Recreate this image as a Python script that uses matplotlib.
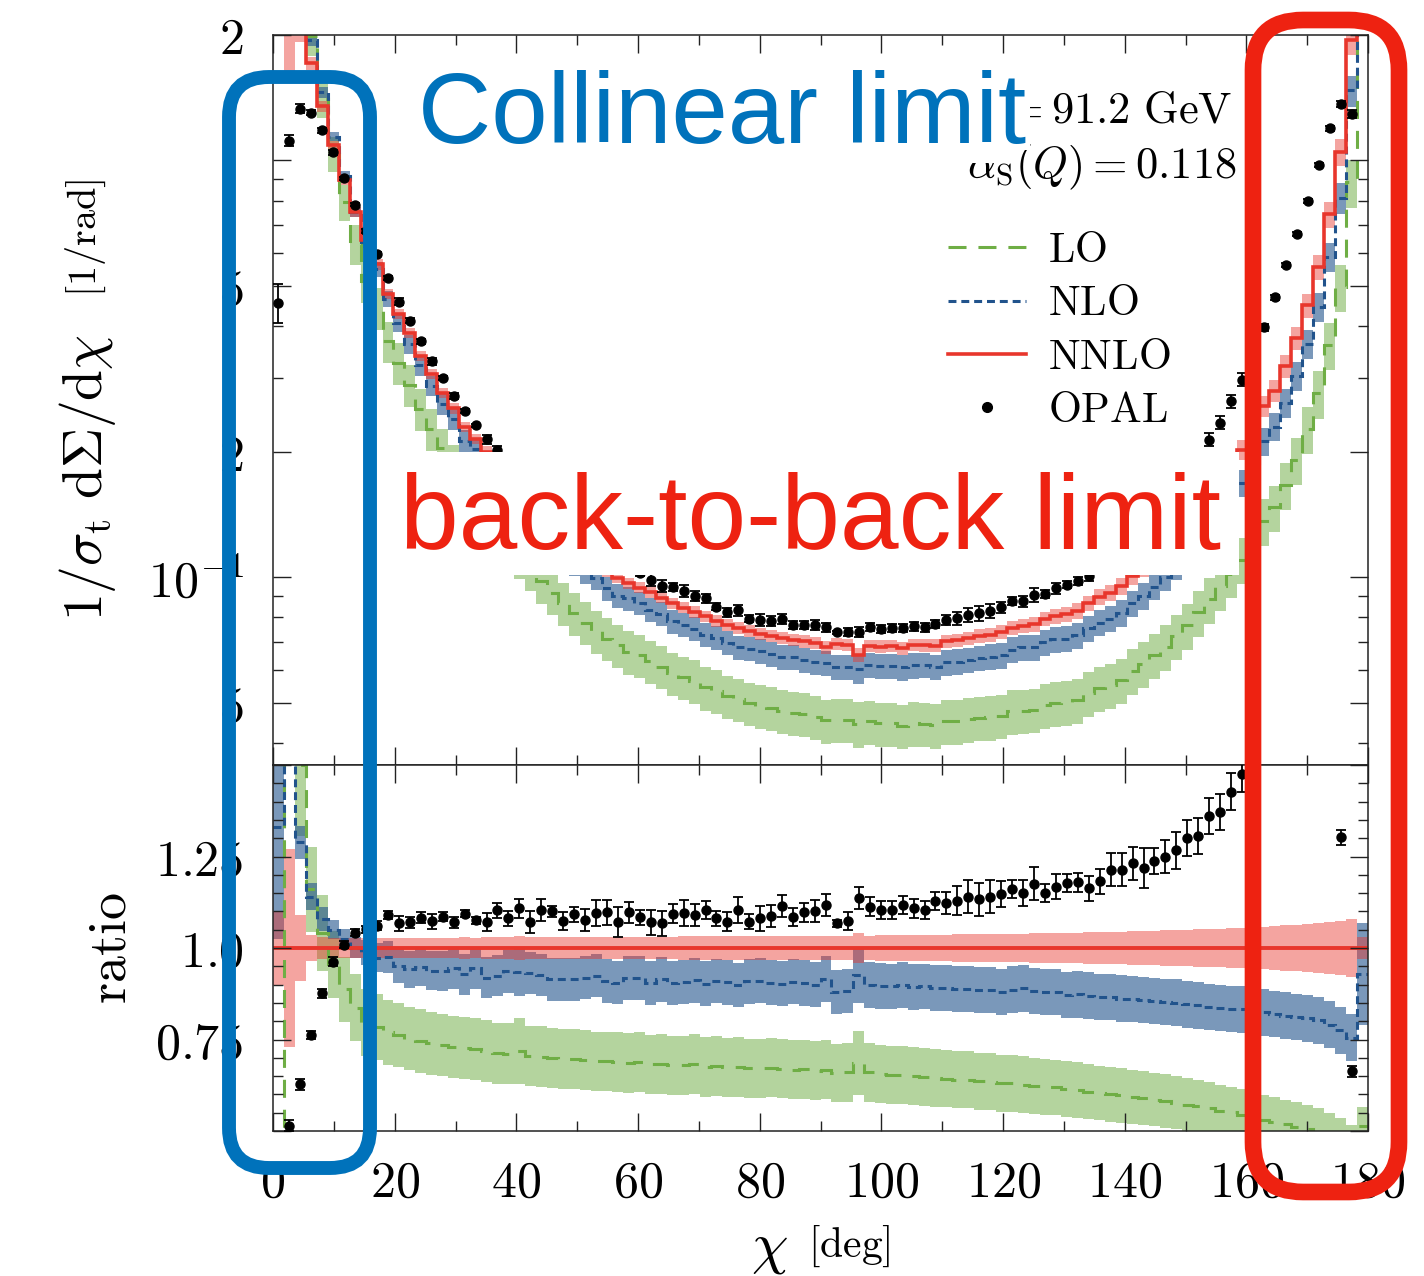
import numpy as np
import matplotlib
matplotlib.use('Agg')
import matplotlib.pyplot as plt
from matplotlib.patches import FancyBboxPatch, Rectangle
from matplotlib.transforms import IdentityTransform
from matplotlib.lines import Line2D
from matplotlib.ticker import FixedLocator, FixedFormatter, MultipleLocator, NullFormatter

plt.rcParams['mathtext.fontset'] = 'cm'
plt.rcParams['font.family'] = ['DejaVu Sans']

# ---------------- data ----------------
chi_edges = np.linspace(0.0, 180.0, 101)          # 1.8 deg bins
chi_centres = 0.5 * (chi_edges[1:] + chi_edges[:-1])

# NNLO central value, 1/sigma dSigma/dchi [1/rad]
nnlo = np.array([
    2.40, 2.17, 2.12, 1.71, 1.35, 1.086, 0.897, 0.752, 0.645, 0.563,
    0.478, 0.429, 0.385, 0.340, 0.307, 0.277, 0.254, 0.229, 0.215, 0.200,
    0.1835, 0.1709, 0.1575, 0.1485, 0.1392, 0.1311, 0.1240, 0.1177, 0.1122, 0.1074,
    0.1032, 0.0997, 0.0967, 0.0943, 0.0921, 0.0893, 0.0866, 0.0845, 0.0825, 0.0805,
    0.0786, 0.0768, 0.0754, 0.0741, 0.0730, 0.0721, 0.0713, 0.0707, 0.0701, 0.0695,
    0.0678, 0.0690, 0.0688, 0.0650, 0.0683, 0.0681, 0.0684, 0.0675, 0.0687, 0.0686,
    0.0684, 0.0701, 0.0705, 0.0713, 0.0722, 0.0728, 0.0738, 0.0756, 0.0762, 0.0770,
    0.0793, 0.0806, 0.0815, 0.0830, 0.0866, 0.0898, 0.0918, 0.0950, 0.1005, 0.1050,
    0.1110, 0.1170, 0.1250, 0.1340, 0.1450, 0.157, 0.171, 0.185, 0.202, 0.228,
    0.257, 0.280, 0.321, 0.374, 0.449, 0.555, 0.742, 1.049, 1.95, 8.0])

nnlo_rel_unc = np.array([
    0.10, 0.27, 0.09, 0.035, 0.030, 0.028, 0.028, 0.027, 0.027, 0.028,
    0.028, 0.027, 0.028, 0.027, 0.028, 0.028, 0.028, 0.029, 0.028, 0.029,
    0.029, 0.029, 0.034, 0.029, 0.029, 0.030, 0.030, 0.029, 0.030, 0.030,
    0.030, 0.031, 0.030, 0.031, 0.031, 0.031, 0.031, 0.032, 0.032, 0.032,
    0.032, 0.032, 0.033, 0.033, 0.033, 0.033, 0.033, 0.034, 0.034, 0.034,
    0.034, 0.034, 0.034, 0.040, 0.034, 0.035, 0.035, 0.035, 0.035, 0.036,
    0.036, 0.036, 0.037, 0.037, 0.037, 0.038, 0.038, 0.039, 0.039, 0.040,
    0.040, 0.041, 0.042, 0.042, 0.043, 0.044, 0.044, 0.045, 0.046, 0.047,
    0.047, 0.048, 0.049, 0.050, 0.051, 0.052, 0.053, 0.054, 0.055, 0.057,
    0.058, 0.060, 0.062, 0.064, 0.066, 0.068, 0.071, 0.074, 0.080, 0.030])

# NLO / NNLO
nlo_ratio = np.array([
    1.33, 1.70, 1.289, 1.14, 1.08, 1.05, 1.024, 1.001, 0.988, 0.974,
    0.975, 0.951, 0.942, 0.947, 0.938, 0.938, 0.945, 0.928, 0.944, 0.919,
    0.924, 0.936, 0.935, 0.932, 0.926, 0.914, 0.914, 0.914, 0.919, 0.924,
    0.910, 0.905, 0.919, 0.919, 0.905, 0.914, 0.905, 0.908, 0.912, 0.903,
    0.910, 0.906, 0.900, 0.909, 0.911, 0.905, 0.903, 0.908, 0.904, 0.900,
    0.915, 0.880, 0.882, 0.925, 0.900, 0.897, 0.895, 0.899, 0.893, 0.895,
    0.890, 0.891, 0.888, 0.887, 0.886, 0.884, 0.879, 0.886, 0.890, 0.882,
    0.880, 0.879, 0.872, 0.873, 0.870, 0.866, 0.866, 0.862, 0.860, 0.858,
    0.855, 0.853, 0.851, 0.846, 0.843, 0.840, 0.836, 0.833, 0.832, 0.826,
    0.824, 0.820, 0.815, 0.812, 0.808, 0.802, 0.790, 0.775, 0.755, 0.93])

nlo_rel_unc = np.array([
    0.23, 0.10, 0.035, 0.032, 0.030, 0.025, 0.027, 0.028, 0.035, 0.040,
    0.045, 0.050, 0.053, 0.055, 0.057, 0.058, 0.059, 0.060, 0.060, 0.061,
    0.061, 0.062, 0.072, 0.062, 0.063, 0.063, 0.063, 0.064, 0.064, 0.064,
    0.065, 0.065, 0.065, 0.065, 0.066, 0.066, 0.066, 0.066, 0.067, 0.067,
    0.067, 0.067, 0.067, 0.068, 0.068, 0.068, 0.068, 0.068, 0.069, 0.069,
    0.069, 0.069, 0.069, 0.080, 0.070, 0.070, 0.070, 0.070, 0.070, 0.070,
    0.070, 0.071, 0.071, 0.071, 0.071, 0.071, 0.071, 0.072, 0.072, 0.072,
    0.072, 0.072, 0.072, 0.073, 0.073, 0.073, 0.073, 0.073, 0.073, 0.074,
    0.074, 0.074, 0.074, 0.075, 0.075, 0.075, 0.075, 0.076, 0.076, 0.076,
    0.077, 0.077, 0.078, 0.078, 0.079, 0.080, 0.081, 0.083, 0.085, 0.15])

# LO / NNLO (first bin negative at LO)
lo_ratio = np.array([
    -0.50, 1.80, 1.50, 1.16, 1.04, 0.955, 0.887, 0.837, 0.796, 0.785,
    0.770, 0.762, 0.752, 0.746, 0.740, 0.735, 0.730, 0.727, 0.723, 0.718,
    0.713, 0.711, 0.718, 0.705, 0.703, 0.700, 0.697, 0.697, 0.693, 0.690,
    0.690, 0.688, 0.685, 0.688, 0.682, 0.683, 0.680, 0.680, 0.683, 0.675,
    0.678, 0.674, 0.675, 0.672, 0.672, 0.673, 0.670, 0.668, 0.669, 0.665,
    0.668, 0.658, 0.660, 0.685, 0.660, 0.655, 0.652, 0.652, 0.649, 0.648,
    0.645, 0.643, 0.640, 0.640, 0.636, 0.634, 0.630, 0.630, 0.627, 0.624,
    0.621, 0.619, 0.615, 0.612, 0.607, 0.604, 0.600, 0.597, 0.593, 0.590,
    0.586, 0.582, 0.577, 0.572, 0.568, 0.563, 0.556, 0.551, 0.545, 0.538,
    0.531, 0.525, 0.518, 0.512, 0.506, 0.497, 0.487, 0.474, 0.455, 0.515])

lo_rel_unc = np.array([
    0.10, 0.10, 0.13, 0.10, 0.10, 0.095, 0.10, 0.11, 0.115, 0.115,
    0.115, 0.115, 0.115, 0.116, 0.116, 0.116, 0.116, 0.117, 0.117, 0.117,
    0.117, 0.117, 0.125, 0.117, 0.118, 0.118, 0.118, 0.118, 0.118, 0.118,
    0.118, 0.119, 0.119, 0.119, 0.119, 0.119, 0.119, 0.119, 0.120, 0.120,
    0.120, 0.120, 0.120, 0.120, 0.120, 0.120, 0.120, 0.121, 0.121, 0.121,
    0.121, 0.121, 0.121, 0.128, 0.121, 0.121, 0.121, 0.122, 0.122, 0.122,
    0.122, 0.122, 0.122, 0.122, 0.122, 0.123, 0.123, 0.123, 0.123, 0.123,
    0.123, 0.123, 0.124, 0.124, 0.124, 0.124, 0.124, 0.124, 0.125, 0.125,
    0.125, 0.125, 0.125, 0.126, 0.126, 0.126, 0.126, 0.127, 0.127, 0.127,
    0.128, 0.128, 0.128, 0.129, 0.129, 0.130, 0.130, 0.131, 0.132, 0.10])

# OPAL / NNLO and its uncertainty (ratio units)
opal_ratio = np.array([
    0.19, 0.514, 0.628, 0.762, 0.876, 0.963, 1.009, 1.042, 1.051, 1.061,
    1.090, 1.067, 1.070, 1.082, 1.073, 1.085, 1.071, 1.094, 1.076, 1.071,
    1.103, 1.081, 1.108, 1.071, 1.104, 1.101, 1.074, 1.092, 1.076, 1.095,
    1.097, 1.071, 1.097, 1.084, 1.070, 1.067, 1.094, 1.095, 1.090, 1.104,
    1.081, 1.072, 1.104, 1.072, 1.081, 1.088, 1.115, 1.085, 1.097, 1.102,
    1.117, 1.067, 1.074, 1.136, 1.113, 1.104, 1.104, 1.117, 1.108, 1.104,
    1.129, 1.124, 1.129, 1.140, 1.133, 1.140, 1.147, 1.161, 1.150, 1.175,
    1.150, 1.168, 1.177, 1.179, 1.163, 1.182, 1.214, 1.214, 1.232, 1.218,
    1.237, 1.250, 1.267, 1.301, 1.306, 1.361, 1.372, 1.427, 1.475, 1.513,
    1.549, 1.675, 1.748, 1.783, 1.784, 1.760, 1.608, 1.302, 0.663, 0.35])

opal_err_ratio = np.array([
    0.020, 0.015, 0.015, 0.010, 0.012, 0.012, 0.010, 0.010, 0.010, 0.012,
    0.012, 0.020, 0.015, 0.015, 0.020, 0.012, 0.015, 0.010, 0.010, 0.025,
    0.020, 0.020, 0.025, 0.030, 0.030, 0.015, 0.025, 0.020, 0.030, 0.035,
    0.035, 0.040, 0.030, 0.020, 0.035, 0.035, 0.025, 0.035, 0.030, 0.025,
    0.020, 0.025, 0.035, 0.020, 0.035, 0.030, 0.030, 0.025, 0.025, 0.030,
    0.030, 0.010, 0.025, 0.030, 0.025, 0.025, 0.025, 0.025, 0.025, 0.025,
    0.025, 0.030, 0.040, 0.045, 0.045, 0.045, 0.035, 0.025, 0.035, 0.045,
    0.025, 0.035, 0.025, 0.025, 0.035, 0.035, 0.045, 0.045, 0.045, 0.055,
    0.035, 0.045, 0.050, 0.050, 0.050, 0.050, 0.050, 0.050, 0.050, 0.030,
    0.030, 0.025, 0.020, 0.020, 0.020, 0.020, 0.020, 0.020, 0.015, 0.020])

x_ticks_major = [0, 20, 40, 60, 80, 100, 120, 140, 160, 180]
top_y_ticks = [0.05, 0.1, 0.2, 0.5, 1.0, 2.0]
top_y_ticklabels = [r'$5$', r'$10^{-1}$', r'$2$', r'$5$', '', r'$2$']
ratio_y_ticks = [0.5, 0.75, 1.0, 1.25, 1.5]
ratio_y_ticklabels = ['', r'$0.75$', r'$1.0$', r'$1.25$', '']

# ---------------- styling ----------------
W, H = 1424, 1276
DPI = 100
c_lo, c_nlo, c_nnlo = '#6fae45', '#21538c', '#e8362c'
a_lo, a_nlo, a_nnlo = 0.52, 0.6, 0.45
lw = 2.2
dash_lo = (0, (5.9, 3.9))
dash_nlo = (0, (2.6, 1.6))

fig = plt.figure(figsize=(W / DPI, H / DPI), dpi=DPI)
left = 273 / W
width = 1095 / W
ax1 = fig.add_axes([left, 1 - 765 / H, width, (765 - 35) / H])
ax2 = fig.add_axes([left, 1 - 1131 / H, width, (1131 - 765) / H])

# derived top-panel quantities
nlo = nnlo * nlo_ratio
lo = nnlo * lo_ratio
opal = nnlo * opal_ratio
opal_err = nnlo * opal_err_ratio
one = nnlo / nnlo
lo_first = int(np.argmax(lo > 0))     # LO is negative in the first bin: not shown on log axis

# ---- top panel ----
ax1.stairs((lo * (1 + lo_rel_unc))[lo_first:], chi_edges[lo_first:],
           baseline=(lo * (1 - lo_rel_unc))[lo_first:],
           fill=True, color=c_lo, alpha=a_lo, lw=0)
ax1.stairs(nlo * (1 + nlo_rel_unc), chi_edges, baseline=nlo * (1 - nlo_rel_unc),
           fill=True, color=c_nlo, alpha=a_nlo, lw=0)
ax1.stairs(nnlo * (1 + nnlo_rel_unc), chi_edges, baseline=nnlo * (1 - nnlo_rel_unc),
           fill=True, color=c_nnlo, alpha=a_nnlo, lw=0)
ax1.stairs(lo[lo_first:], chi_edges[lo_first:], color=c_lo, lw=lw, ls=dash_lo, baseline=None)
ax1.stairs(nlo, chi_edges, color=c_nlo, lw=lw, ls=dash_nlo, baseline=None)
ax1.stairs(nnlo, chi_edges, color=c_nnlo, lw=2.6, baseline=None)
ax1.errorbar(chi_centres, opal, yerr=opal_err, fmt='o', color='k', ms=6.5,
             elinewidth=1.3, capsize=3.5, capthick=1.3, zorder=5)
ax1.set_yscale('log')
ax1.set_xlim(0, 180)
ax1.set_ylim(0.0354, 2.0)

# ---- ratio panel ----
ax2.stairs(lo_ratio * (1 + lo_rel_unc), chi_edges, baseline=lo_ratio * (1 - lo_rel_unc),
           fill=True, color=c_lo, alpha=a_lo, lw=0)
ax2.stairs(nlo_ratio * (1 + nlo_rel_unc), chi_edges, baseline=nlo_ratio * (1 - nlo_rel_unc),
           fill=True, color=c_nlo, alpha=a_nlo, lw=0)
ax2.stairs(one * (1 + nnlo_rel_unc), chi_edges, baseline=one * (1 - nnlo_rel_unc),
           fill=True, color=c_nnlo, alpha=a_nnlo, lw=0)
ax2.stairs(lo_ratio, chi_edges, color=c_lo, lw=lw, ls=dash_lo, baseline=None)
ax2.stairs(nlo_ratio, chi_edges, color=c_nlo, lw=lw, ls=dash_nlo, baseline=None)
ax2.stairs(one, chi_edges, color=c_nnlo, lw=2.8, baseline=None)
ax2.errorbar(chi_centres, opal_ratio, yerr=opal_err_ratio, fmt='o', color='k', ms=6.5,
             elinewidth=1.3, capsize=3.5, capthick=1.3, zorder=5)
ax2.set_xlim(0, 180)
ax2.set_ylim(0.5, 1.5)

# ---- ticks ----
for ax in (ax1, ax2):
    ax.tick_params(which='both', direction='in', top=True, right=True,
                   width=1.0, color='#222222')
    ax.tick_params(which='major', length=13)
    ax.tick_params(which='minor', length=7)
    ax.xaxis.set_major_locator(FixedLocator(x_ticks_major))
    ax.xaxis.set_minor_locator(MultipleLocator(10))
    for s in ax.spines.values():
        s.set_linewidth(1.1)
        s.set_color('#222222')

ax1.yaxis.set_major_locator(FixedLocator(top_y_ticks))
ax1.yaxis.set_major_formatter(FixedFormatter(top_y_ticklabels))
ax1.yaxis.set_minor_locator(FixedLocator([0.04, 0.06, 0.07, 0.08, 0.09, 0.3, 0.4,
                                          0.6, 0.7, 0.8, 0.9]))
ax1.yaxis.set_minor_formatter(NullFormatter())
ax1.xaxis.set_major_formatter(NullFormatter())
ax1.tick_params(axis='y', labelsize=36, pad=21)

ax2.yaxis.set_major_locator(FixedLocator(ratio_y_ticks))
ax2.yaxis.set_major_formatter(FixedFormatter(ratio_y_ticklabels))
ax2.yaxis.set_minor_locator(MultipleLocator(0.05))
ax2.xaxis.set_major_formatter(FixedFormatter([r'$%d$' % v for v in x_ticks_major]))
ax2.tick_params(axis='y', labelsize=36, pad=21)
ax2.tick_params(axis='x', labelsize=36, pad=20)

# ---- axis labels ----
fig.text(87 / W, 1 - 478 / H, r'$1/\sigma_\mathrm{t}\ \mathrm{d}\Sigma/\mathrm{d}\chi$',
         rotation=90, fontsize=40, ha='center', va='center')
fig.text(86 / W, 1 - 238 / H, r'$[1/\mathrm{rad}]$', rotation=90, fontsize=29,
         ha='center', va='center')
fig.text(111 / W, 1 - 948 / H, r'$\mathrm{ratio}$', rotation=90, fontsize=39,
         ha='center', va='center')
fig.text(769 / W, 1 - 1248 / H, r'$\chi$', fontsize=42, ha='center', va='center')
fig.text(849 / W, 1 - 1246 / H, r'$[\mathrm{deg}]$', fontsize=30, ha='center', va='center')

# ---- legend ----
handles = [Line2D([], [], color=c_lo, lw=lw, ls=dash_lo),
           Line2D([], [], color=c_nlo, lw=lw, ls=dash_nlo),
           Line2D([], [], color=c_nnlo, lw=2.6),
           Line2D([], [], color='k', marker='o', ls='none', ms=7)]
labels = [r'$\mathrm{LO}$', r'$\mathrm{NLO}$', r'$\mathrm{NNLO}$', r'$\mathrm{OPAL}$']
ax1.legend(handles, labels, loc='upper left',
           bbox_to_anchor=((948 - 273) / 1095, 1 - (229 - 35) / 730),
           frameon=False, borderpad=0, borderaxespad=0, handlelength=1.85,
           handletextpad=0.5, labelspacing=0.27, fontsize=30.5)

# ---- process info ----
fig.text(1232 / W, 1 - 123 / H, r'$Q = 91.2\ \mathrm{GeV}$', fontsize=32,
         ha='right', va='baseline', zorder=2)
fig.text(1236 / W, 1 - 178 / H, r'$\alpha_\mathrm{S}(Q) = 0.118$', fontsize=32,
         ha='right', va='baseline', zorder=2)

# ---- white label boxes and annotation texts ----
pix = IdentityTransform()
fig.patches.append(Rectangle((410, H - 150), 620, 92, transform=pix,
                             facecolor='white', edgecolor='none', zorder=3))
fig.patches.append(Rectangle((410, H - 163), 598, 20, transform=pix,
                             facecolor='white', edgecolor='none', zorder=3))
fig.patches.append(Rectangle((393, H - 575), 846, 123, transform=pix,
                             facecolor='white', edgecolor='none', zorder=3))
fig.text(418 / W, 1 - 143 / H, 'Collinear limit', fontsize=73, color='#0072bb',
         family=['Liberation Sans', 'DejaVu Sans'], ha='left', va='baseline', zorder=4)
fig.text(400 / W, 1 - 549 / H, 'back-to-back limit', fontsize=76, color='#ee2211',
         family=['Liberation Sans', 'DejaVu Sans'], ha='left', va='baseline', zorder=4)

# ---- hand-drawn rounded boxes ----
fig.patches.append(FancyBboxPatch((229, H - 1168), 141, 1091,
                                  boxstyle='round,pad=0,rounding_size=40',
                                  transform=pix, facecolor='none',
                                  edgecolor='#0072bb', lw=10, zorder=10))
fig.patches.append(FancyBboxPatch((1253, H - 1192), 146, 1172,
                                  boxstyle='round,pad=0,rounding_size=50',
                                  transform=pix, facecolor='none',
                                  edgecolor='#ee2211', lw=12, zorder=10))

fig.savefig('out.png', dpi=DPI)
